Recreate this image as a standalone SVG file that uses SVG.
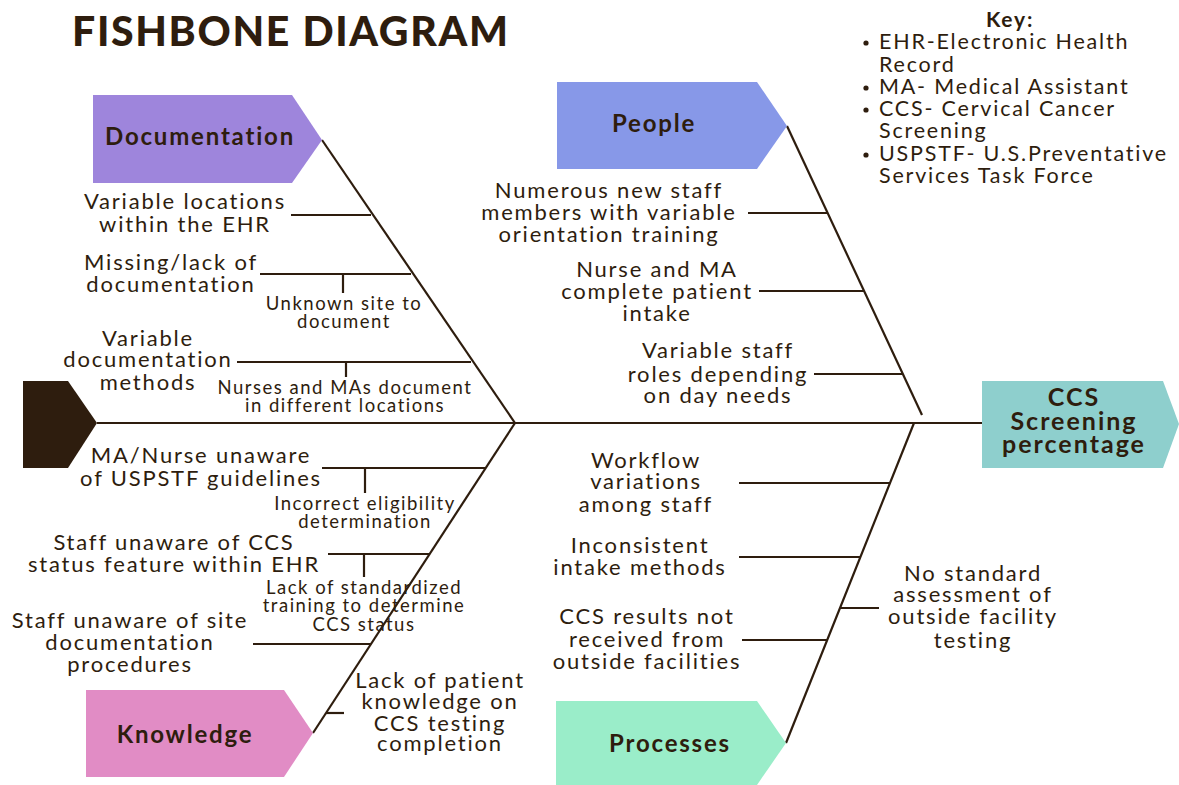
<svg xmlns="http://www.w3.org/2000/svg" width="1179" height="785" viewBox="0 0 1179 785">
<style>
text{font-family:Lato,"Open Sans","Liberation Sans",sans-serif;fill:#2e1d0e}
.t{font-size:22px;letter-spacing:1.8px;text-anchor:middle}
.s{font-size:18.5px;letter-spacing:1.5px;text-anchor:middle}
.b{font-size:24px;font-weight:bold;letter-spacing:1.8px;text-anchor:middle}
.c{font-size:25px;font-weight:bold;letter-spacing:2px;text-anchor:middle}
.k{font-size:21.5px;letter-spacing:1.8px}
.ln{stroke:#2e1d0e;stroke-width:2.2;fill:none}
</style>
<rect width="1179" height="785" fill="#ffffff"/>
<text x="72" y="46" font-size="41" font-weight="900" textLength="436" lengthAdjust="spacing">FISHBONE DIAGRAM</text>
<g id="key">
<text x="1010" y="27" class="b" style="font-size:21px">Key:</text>
<g fill="#2e1d0e"><circle cx="866" cy="43" r="2.6"/><circle cx="866" cy="88" r="2.6"/><circle cx="866" cy="110" r="2.6"/><circle cx="866" cy="155" r="2.6"/></g>
<text x="879" y="49" class="k">EHR-Electronic Health</text>
<text x="879" y="72" class="k">Record</text>
<text x="879" y="94" class="k">MA- Medical Assistant</text>
<text x="879" y="116" class="k">CCS- Cervical Cancer</text>
<text x="879" y="138" class="k">Screening</text>
<text x="879" y="161" class="k">USPSTF- U.S.Preventative</text>
<text x="879" y="183" class="k">Services Task Force</text>
</g>
<g id="connectors" class="ln">
<path d="M97,423 H982"/>
<path d="M322,140 L515,423"/>
<path d="M787,126 L922,415"/>
<path d="M515,423 L313,733"/>
<path d="M914,423 L786,743"/>
<path d="M291,215 H371"/>
<path d="M260,274 H411"/><path d="M343,274 V293"/>
<path d="M237,362 H471"/><path d="M346,362 V377"/>
<path d="M748,213 H828"/>
<path d="M759,291 H864"/>
<path d="M814,374 H903"/>
<path d="M322,468 H486"/><path d="M365,468 V493"/>
<path d="M328,554 H430"/><path d="M364,554 V577"/>
<path d="M253,644 H371"/>
<path d="M326,713 H344"/>
<path d="M739,483 H890"/>
<path d="M739,557 H860"/>
<path d="M742,640 H827"/>
<path d="M840,608 H879"/>
</g>
<g id="effect">
<path d="M23,381 H68 L97,423 L68,468 H23 Z" fill="#2e1d0e"/>
<path d="M982,381 H1163 L1179,424 L1163,468 H982 Z" fill="#8ecfcd"/>
<text x="1074" y="406" class="c">CCS</text>
<text x="1074" y="430" class="c">Screening</text>
<text x="1074" y="453" class="c">percentage</text>
</g>
<g id="documentation">
<path d="M93,95 H292 L322,140 L292,183 H93 Z" fill="#9e85dc"/>
<text x="200" y="145" class="b">Documentation</text>
<text x="185" y="209" class="t">Variable locations</text>
<text x="185" y="232" class="t">within the EHR</text>
<text x="171" y="270" class="t">Missing/lack of</text>
<text x="171" y="292" class="t">documentation</text>
<text x="344" y="310" class="s">Unknown site to</text>
<text x="344" y="328" class="s">document</text>
<text x="148" y="346" class="t">Variable</text>
<text x="148" y="367" class="t">documentation</text>
<text x="148" y="390" class="t">methods</text>
<text x="345" y="394" class="s">Nurses and MAs document</text>
<text x="345" y="412" class="s">in different locations</text>
</g>
<g id="people">
<path d="M557,82 H757 L787,126 L757,169 H557 Z" fill="#8798e8"/>
<text x="654" y="132" class="b">People</text>
<text x="609" y="198" class="t">Numerous new staff</text>
<text x="609" y="220" class="t">members with variable</text>
<text x="609" y="242" class="t">orientation training</text>
<text x="657" y="277" class="t">Nurse and MA</text>
<text x="657" y="299" class="t">complete patient</text>
<text x="657" y="321" class="t">intake</text>
<text x="718" y="358" class="t">Variable staff</text>
<text x="718" y="382" class="t">roles depending</text>
<text x="718" y="403" class="t">on day needs</text>
</g>
<g id="knowledge">
<path d="M86,690 H284 L313,733 L284,777 H86 Z" fill="#e18cc5"/>
<text x="185" y="743" class="b">Knowledge</text>
<text x="201" y="463" class="t">MA/Nurse unaware</text>
<text x="201" y="486" class="t">of USPSTF guidelines</text>
<text x="365" y="510" class="s">Incorrect eligibility</text>
<text x="365" y="528" class="s">determination</text>
<text x="174" y="550" class="t">Staff unaware of CCS</text>
<text x="174" y="572" class="t">status feature within EHR</text>
<text x="364" y="594" class="s">Lack of standardized</text>
<text x="364" y="612" class="s">training to determine</text>
<text x="364" y="631" class="s">CCS status</text>
<text x="130" y="628" class="t">Staff unaware of site</text>
<text x="130" y="650" class="t">documentation</text>
<text x="130" y="672" class="t">procedures</text>
<text x="440" y="688" class="t">Lack of patient</text>
<text x="440" y="709" class="t">knowledge on</text>
<text x="440" y="731" class="t">CCS testing</text>
<text x="440" y="751" class="t">completion</text>
</g>
<g id="processes">
<path d="M556,701 H757 L786,743 L757,785 H556 Z" fill="#9aedc9"/>
<text x="670" y="752" class="b">Processes</text>
<text x="646" y="468" class="t">Workflow</text>
<text x="646" y="489" class="t">variations</text>
<text x="646" y="512" class="t">among staff</text>
<text x="640" y="553" class="t">Inconsistent</text>
<text x="640" y="575" class="t">intake methods</text>
<text x="647" y="624" class="t">CCS results not</text>
<text x="647" y="647" class="t">received from</text>
<text x="647" y="669" class="t">outside facilities</text>
<text x="973" y="581" class="t">No standard</text>
<text x="973" y="602" class="t">assessment of</text>
<text x="973" y="624" class="t">outside facility</text>
<text x="973" y="648" class="t">testing</text>
</g>
</svg>
